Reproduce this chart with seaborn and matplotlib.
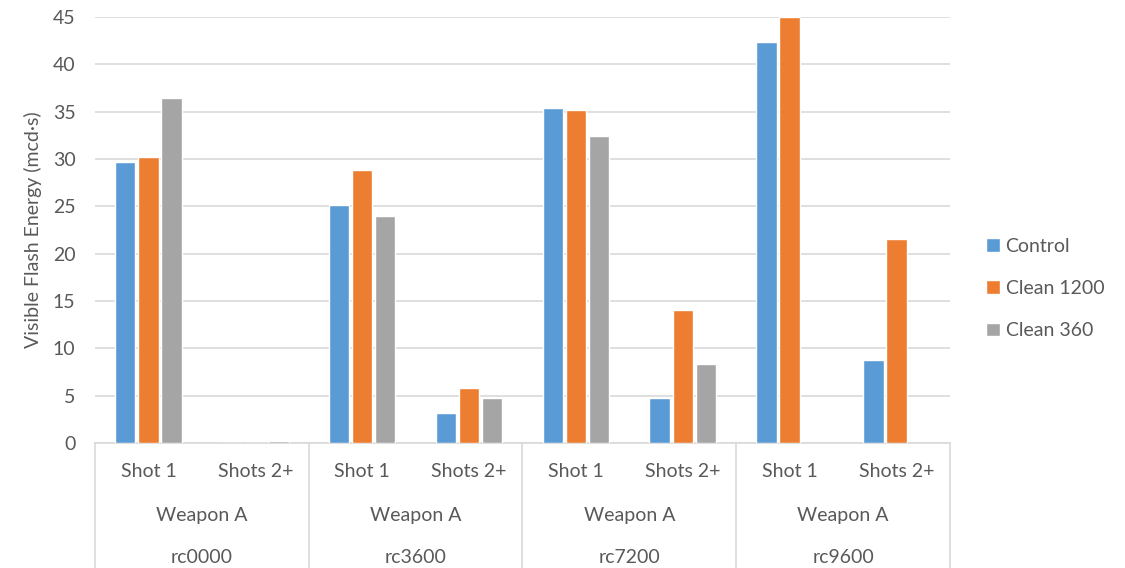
import numpy as np
import pandas as pd
import seaborn as sns
import matplotlib.pyplot as plt

ranges = ["rc0000", "rc3600", "rc7200", "rc9600"]
shots = ["Shot 1", "Shots 2+"]
weapon = "Weapon A"
series = ["Control", "Clean 1200", "Clean 360"]

control = [29.7, 0.0, 25.1, 3.2, 35.4, 4.7, 42.4, 8.8]
clean_1200 = [30.2, 0.0, 28.8, 5.8, 35.2, 14.0, 45.0, 21.6]
clean_360 = [36.4, 0.25, 24.0, 4.8, 32.4, 8.3, np.nan, np.nan]

colors = ["#5B9BD5", "#ED7D31", "#A5A5A5"]

cats = [f"{r} {s}" for r in ranges for s in shots]
rows = []
for name, vals in zip(series, [control, clean_1200, clean_360]):
    for c, v in zip(cats, vals):
        rows.append({"cat": c, "series": name, "value": v})
df = pd.DataFrame(rows)

sns.set_style("white")
plt.rcParams['font.family'] = ['Lato', 'DejaVu Sans']
text_col = "#595959"
line_col = "#D9D9D9"
fs = 14

fig = plt.figure(figsize=(11.25, 5.68), dpi=100)
ax = fig.add_axes([0.0844, 0.2201, 0.76, 0.75])

sns.barplot(data=df, x="cat", y="value", hue="series", order=cats,
            hue_order=series, palette=colors, saturation=1, errorbar=None,
            width=0.65, gap=0.12, ax=ax, zorder=3)

ax.set_ylim(0, 45)
ax.set_xlim(-0.5, len(cats) - 0.5)
ax.set_yticks(np.arange(0, 46, 5))
ax.yaxis.grid(True, color=line_col, lw=1.2, zorder=0)
ax.set_axisbelow(True)
for s in ["top", "right", "left"]:
    ax.spines[s].set_visible(False)
ax.spines["bottom"].set_color(line_col)
ax.spines["bottom"].set_linewidth(1.2)
ax.tick_params(axis="y", length=0, pad=14, labelsize=fs, labelcolor=text_col)
ax.set_xticks([])
ax.set_xlabel("")
ax.set_ylabel("Visible Flash Energy (mcd·s)", fontsize=fs, color=text_col, labelpad=8)

# multi-level category axis
trans = ax.get_xaxis_transform()
for i, c in enumerate(cats):
    ax.text(i, -0.068, shots[i % 2], transform=trans, ha="center", va="center",
            fontsize=fs, color=text_col)
for g, r in enumerate(ranges):
    mid = g * 2 + 0.5
    ax.text(mid, -0.171, weapon, transform=trans, ha="center", va="center",
            fontsize=fs, color=text_col)
    ax.text(mid, -0.268, r, transform=trans, ha="center", va="center",
            fontsize=fs, color=text_col)
for b in np.arange(-0.5, len(cats), 2):
    ax.plot([b, b], [0, -0.31], transform=trans, color=line_col, lw=1.2,
            clip_on=False)

leg = ax.legend(loc="center left", bbox_to_anchor=(0.861, 0.492), bbox_transform=fig.transFigure,
                frameon=False, fontsize=fs, handlelength=0.7, handleheight=0.7,
                handletextpad=0.3, labelspacing=1.3)
for t in leg.get_texts():
    t.set_color(text_col)

fig.savefig("out.png", dpi=100)
